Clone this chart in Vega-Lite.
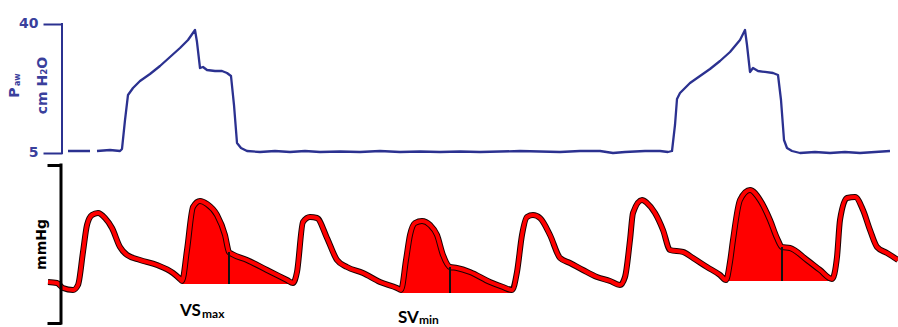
{
  "$schema": "https://vega.github.io/schema/vega-lite/v6.json",
  "width": 898,
  "height": 327,
  "autosize": {"type": "fit", "contains": "padding"},
  "padding": 0,
  "background": "white",
  "config": {"view": {"stroke": null}},
  "datasets": {
    "paw": [
      {"t": 0.68, "paw": 5.54}, {"t": 0.90, "paw": 5.54}, {"t": 0.935, "paw": null},
      {"t": 0.97, "paw": 5.54}, {"t": 1.10, "paw": 5.81}, {"t": 1.20, "paw": 5.54},
      {"t": 1.22, "paw": 6.09}, {"t": 1.25, "paw": 13.95}, {"t": 1.28, "paw": 20.74},
      {"t": 1.33, "paw": 22.63}, {"t": 1.40, "paw": 24.53}, {"t": 1.50, "paw": 26.43},
      {"t": 1.60, "paw": 28.60}, {"t": 1.70, "paw": 31.04}, {"t": 1.80, "paw": 33.49},
      {"t": 1.88, "paw": 35.66}, {"t": 1.95, "paw": 38.37}, {"t": 1.97, "paw": 35.11},
      {"t": 2.00, "paw": 28.06}, {"t": 2.03, "paw": 28.33}, {"t": 2.07, "paw": 27.52},
      {"t": 2.15, "paw": 27.25}, {"t": 2.22, "paw": 27.25}, {"t": 2.27, "paw": 26.70},
      {"t": 2.31, "paw": 25.89}, {"t": 2.34, "paw": 18.02}, {"t": 2.37, "paw": 7.71},
      {"t": 2.41, "paw": 6.36}, {"t": 2.47, "paw": 5.54}, {"t": 2.60, "paw": 5.27},
      {"t": 2.75, "paw": 5.54}, {"t": 2.90, "paw": 5.27}, {"t": 3.05, "paw": 5.54},
      {"t": 3.20, "paw": 5.27}, {"t": 3.40, "paw": 5.40}, {"t": 3.60, "paw": 5.27},
      {"t": 3.80, "paw": 5.54}, {"t": 4.00, "paw": 5.27}, {"t": 4.20, "paw": 5.40},
      {"t": 4.40, "paw": 5.27}, {"t": 4.60, "paw": 5.40}, {"t": 4.80, "paw": 5.27},
      {"t": 5.00, "paw": 5.40}, {"t": 5.20, "paw": 5.54}, {"t": 5.40, "paw": 5.40},
      {"t": 5.60, "paw": 5.27}, {"t": 5.80, "paw": 5.54}, {"t": 6.00, "paw": 5.54},
      {"t": 6.13, "paw": 5.00}, {"t": 6.25, "paw": 5.27}, {"t": 6.45, "paw": 5.54},
      {"t": 6.60, "paw": 5.54}, {"t": 6.68, "paw": 5.27}, {"t": 6.72, "paw": 5.54},
      {"t": 6.75, "paw": 12.60}, {"t": 6.77, "paw": 19.65}, {"t": 6.80, "paw": 21.28},
      {"t": 6.90, "paw": 23.99}, {"t": 7.00, "paw": 25.89}, {"t": 7.10, "paw": 27.79},
      {"t": 7.20, "paw": 29.96}, {"t": 7.30, "paw": 32.40}, {"t": 7.40, "paw": 35.66},
      {"t": 7.45, "paw": 38.37}, {"t": 7.47, "paw": 34.30}, {"t": 7.50, "paw": 26.98},
      {"t": 7.53, "paw": 28.06}, {"t": 7.58, "paw": 27.25}, {"t": 7.65, "paw": 26.98},
      {"t": 7.73, "paw": 26.70}, {"t": 7.78, "paw": 26.16}, {"t": 7.81, "paw": 19.38},
      {"t": 7.84, "paw": 8.53}, {"t": 7.87, "paw": 6.36}, {"t": 7.92, "paw": 5.54},
      {"t": 8.00, "paw": 5.00}, {"t": 8.15, "paw": 5.27}, {"t": 8.30, "paw": 5.00},
      {"t": 8.45, "paw": 5.27}, {"t": 8.60, "paw": 5.00}, {"t": 8.75, "paw": 5.27},
      {"t": 8.90, "paw": 5.54}
    ],
    "pawAxisLine": [{"t": 0.62, "paw": 5, "paw2": 40}],
    "pawTitleMain": [{"t": 0.145, "paw": 21.41, "text": "P"}],
    "pawTitleSub": [{"t": 0.175, "paw": 24.9, "text": "aw"}],
    "abp": [
      {"t": 0.48, "mmHg": 60.76}, {"t": 0.57, "mmHg": 60.25}, {"t": 0.63, "mmHg": 57.72},
      {"t": 0.73, "mmHg": 56.71}, {"t": 0.78, "mmHg": 59.24}, {"t": 0.83, "mmHg": 75.95},
      {"t": 0.87, "mmHg": 89.62}, {"t": 0.92, "mmHg": 94.68}, {"t": 0.98, "mmHg": 95.70},
      {"t": 1.05, "mmHg": 93.16}, {"t": 1.12, "mmHg": 88.10}, {"t": 1.20, "mmHg": 78.48},
      {"t": 1.27, "mmHg": 74.43}, {"t": 1.40, "mmHg": 71.90}, {"t": 1.57, "mmHg": 69.37},
      {"t": 1.73, "mmHg": 65.32}, {"t": 1.80, "mmHg": 62.28}, {"t": 1.82, "mmHg": 61.27},
      {"t": 1.87, "mmHg": 76.96}, {"t": 1.93, "mmHg": 98.73}, {"t": 2.00, "mmHg": 101.77},
      {"t": 2.07, "mmHg": 100.25}, {"t": 2.17, "mmHg": 94.68}, {"t": 2.25, "mmHg": 84.56},
      {"t": 2.29, "mmHg": 75.95}, {"t": 2.32, "mmHg": 74.94}, {"t": 2.47, "mmHg": 71.90},
      {"t": 2.67, "mmHg": 66.84}, {"t": 2.87, "mmHg": 61.77}, {"t": 2.93, "mmHg": 60.25},
      {"t": 2.97, "mmHg": 65.82}, {"t": 3.03, "mmHg": 91.14}, {"t": 3.10, "mmHg": 93.67},
      {"t": 3.17, "mmHg": 93.16}, {"t": 3.27, "mmHg": 83.04}, {"t": 3.37, "mmHg": 71.90},
      {"t": 3.47, "mmHg": 68.35}, {"t": 3.63, "mmHg": 65.32}, {"t": 3.80, "mmHg": 60.76},
      {"t": 3.97, "mmHg": 57.72}, {"t": 4.01, "mmHg": 56.71}, {"t": 4.06, "mmHg": 71.90},
      {"t": 4.10, "mmHg": 84.56}, {"t": 4.15, "mmHg": 90.63}, {"t": 4.22, "mmHg": 91.65},
      {"t": 4.30, "mmHg": 89.62}, {"t": 4.37, "mmHg": 84.56}, {"t": 4.43, "mmHg": 74.43},
      {"t": 4.50, "mmHg": 68.35}, {"t": 4.57, "mmHg": 67.85}, {"t": 4.70, "mmHg": 65.82},
      {"t": 4.90, "mmHg": 60.76}, {"t": 5.03, "mmHg": 58.23}, {"t": 5.12, "mmHg": 56.71},
      {"t": 5.17, "mmHg": 65.82}, {"t": 5.22, "mmHg": 84.56}, {"t": 5.27, "mmHg": 93.67},
      {"t": 5.33, "mmHg": 94.68}, {"t": 5.40, "mmHg": 93.16}, {"t": 5.50, "mmHg": 84.56},
      {"t": 5.60, "mmHg": 72.91}, {"t": 5.70, "mmHg": 70.38}, {"t": 5.83, "mmHg": 66.84},
      {"t": 5.97, "mmHg": 63.29}, {"t": 6.10, "mmHg": 61.27}, {"t": 6.20, "mmHg": 59.24},
      {"t": 6.25, "mmHg": 63.29}, {"t": 6.30, "mmHg": 82.03}, {"t": 6.33, "mmHg": 95.70},
      {"t": 6.42, "mmHg": 102.28}, {"t": 6.47, "mmHg": 100.76}, {"t": 6.55, "mmHg": 95.70},
      {"t": 6.63, "mmHg": 87.09}, {"t": 6.70, "mmHg": 76.96}, {"t": 6.83, "mmHg": 75.95},
      {"t": 6.93, "mmHg": 72.91}, {"t": 7.07, "mmHg": 68.35}, {"t": 7.20, "mmHg": 64.30},
      {"t": 7.26, "mmHg": 61.77}, {"t": 7.30, "mmHg": 70.89}, {"t": 7.33, "mmHg": 82.03},
      {"t": 7.40, "mmHg": 102.28}, {"t": 7.50, "mmHg": 107.34}, {"t": 7.60, "mmHg": 102.28},
      {"t": 7.70, "mmHg": 92.15}, {"t": 7.77, "mmHg": 83.04}, {"t": 7.82, "mmHg": 78.48},
      {"t": 7.90, "mmHg": 77.97}, {"t": 8.07, "mmHg": 71.90}, {"t": 8.20, "mmHg": 66.84},
      {"t": 8.32, "mmHg": 62.28}, {"t": 8.37, "mmHg": 73.42}, {"t": 8.40, "mmHg": 92.15},
      {"t": 8.47, "mmHg": 103.29}, {"t": 8.55, "mmHg": 103.80}, {"t": 8.63, "mmHg": 97.22},
      {"t": 8.70, "mmHg": 87.09}, {"t": 8.77, "mmHg": 78.48}, {"t": 8.87, "mmHg": 75.44},
      {"t": 8.98, "mmHg": 71.90}
    ],
    "fills": [
      {"beat": 1, "t": 1.82, "mmHg": 61.27, "base": 59.75},
      {"beat": 1, "t": 1.87, "mmHg": 76.96, "base": 59.75},
      {"beat": 1, "t": 1.93, "mmHg": 98.73, "base": 59.75},
      {"beat": 1, "t": 2.00, "mmHg": 101.77, "base": 59.75},
      {"beat": 1, "t": 2.07, "mmHg": 100.25, "base": 59.75},
      {"beat": 1, "t": 2.17, "mmHg": 94.68, "base": 59.75},
      {"beat": 1, "t": 2.25, "mmHg": 84.56, "base": 59.75},
      {"beat": 1, "t": 2.29, "mmHg": 75.95, "base": 59.75},
      {"beat": 1, "t": 2.32, "mmHg": 74.94, "base": 59.75},
      {"beat": 1, "t": 2.47, "mmHg": 71.90, "base": 59.75},
      {"beat": 1, "t": 2.67, "mmHg": 66.84, "base": 59.75},
      {"beat": 1, "t": 2.87, "mmHg": 61.77, "base": 59.75},
      {"beat": 1, "t": 2.93, "mmHg": 60.25, "base": 59.75},
      {"beat": 2, "t": 4.01, "mmHg": 56.71, "base": 55.19},
      {"beat": 2, "t": 4.06, "mmHg": 71.90, "base": 55.19},
      {"beat": 2, "t": 4.10, "mmHg": 84.56, "base": 55.19},
      {"beat": 2, "t": 4.15, "mmHg": 90.63, "base": 55.19},
      {"beat": 2, "t": 4.22, "mmHg": 91.65, "base": 55.19},
      {"beat": 2, "t": 4.30, "mmHg": 89.62, "base": 55.19},
      {"beat": 2, "t": 4.37, "mmHg": 84.56, "base": 55.19},
      {"beat": 2, "t": 4.43, "mmHg": 74.43, "base": 55.19},
      {"beat": 2, "t": 4.50, "mmHg": 68.35, "base": 55.19},
      {"beat": 2, "t": 4.57, "mmHg": 67.85, "base": 55.19},
      {"beat": 2, "t": 4.70, "mmHg": 65.82, "base": 55.19},
      {"beat": 2, "t": 4.90, "mmHg": 60.76, "base": 55.19},
      {"beat": 2, "t": 5.03, "mmHg": 58.23, "base": 55.19},
      {"beat": 2, "t": 5.12, "mmHg": 56.71, "base": 55.19},
      {"beat": 3, "t": 7.26, "mmHg": 61.77, "base": 61.27},
      {"beat": 3, "t": 7.30, "mmHg": 70.89, "base": 61.27},
      {"beat": 3, "t": 7.33, "mmHg": 82.03, "base": 61.27},
      {"beat": 3, "t": 7.40, "mmHg": 102.28, "base": 61.27},
      {"beat": 3, "t": 7.50, "mmHg": 107.34, "base": 61.27},
      {"beat": 3, "t": 7.60, "mmHg": 102.28, "base": 61.27},
      {"beat": 3, "t": 7.70, "mmHg": 92.15, "base": 61.27},
      {"beat": 3, "t": 7.77, "mmHg": 83.04, "base": 61.27},
      {"beat": 3, "t": 7.82, "mmHg": 78.48, "base": 61.27},
      {"beat": 3, "t": 7.90, "mmHg": 77.97, "base": 61.27},
      {"beat": 3, "t": 8.07, "mmHg": 71.90, "base": 61.27},
      {"beat": 3, "t": 8.20, "mmHg": 66.84, "base": 61.27},
      {"beat": 3, "t": 8.32, "mmHg": 62.28, "base": 61.27}
    ],
    "notches": [
      {"t": 2.29, "mmHg": 75.95, "base": 59.75},
      {"t": 4.50, "mmHg": 68.35, "base": 55.19},
      {"t": 7.82, "mmHg": 78.48, "base": 61.27}
    ],
    "abpAxisLine": [{"t": 0.61, "mmHg": 40, "mmHg2": 120}],
    "labelMain": [
      {"t": 1.80, "mmHg": 43.54, "text": "VS"},
      {"t": 3.98, "mmHg": 40.0, "text": "SV"}
    ],
    "labelSub": [
      {"t": 2.02, "mmHg": 42.53, "text": "max"},
      {"t": 4.19, "mmHg": 39.3, "text": "min"}
    ]
  },
  "layer": [
    {
      "layer": [
        {
          "data": {"name": "paw"},
          "mark": {"type": "line", "color": "#2b3190", "strokeWidth": 2.3, "strokeJoin": "round"},
          "encoding": {
            "x": {"field": "t", "type": "quantitative", "scale": {"domain": [0, 8.98], "nice": false, "zero": false}, "axis": null},
            "y": {
              "field": "paw", "type": "quantitative",
              "scale": {"domain": [-42.21, 46.51], "nice": false, "zero": false},
              "axis": {
                "orient": "left", "offset": -62, "values": [5, 40], "domain": false, "grid": false,
                "tickSize": 19, "tickWidth": 2, "tickColor": "#2b3190",
                "labelColor": "#3a409c", "labelFont": "DejaVu Sans", "labelFontSize": 14, "labelFontWeight": "bold", "labelPadding": 5,
                "title": "cm H₂O", "titleColor": "#3a409c", "titleFont": "DejaVu Sans", "titleFontSize": 14, "titleFontWeight": "bold",
                "titleAngle": -90, "titleX": -20, "titleY": 85, "titleAlign": "center", "titleBaseline": "middle"
              }
            }
          }
        },
        {
          "data": {"name": "pawAxisLine"},
          "mark": {"type": "rule", "color": "#2b3190", "strokeWidth": 2, "strokeCap": "square"},
          "encoding": {
            "x": {"field": "t", "type": "quantitative"},
            "y": {"field": "paw", "type": "quantitative"},
            "y2": {"field": "paw2"}
          }
        },
        {
          "data": {"name": "pawTitleMain"},
          "mark": {"type": "text", "angle": 270, "align": "center", "baseline": "middle", "font": "DejaVu Sans", "fontWeight": "bold", "fontSize": 14, "color": "#3a409c"},
          "encoding": {
            "x": {"field": "t", "type": "quantitative"},
            "y": {"field": "paw", "type": "quantitative"},
            "text": {"field": "text"}
          }
        },
        {
          "data": {"name": "pawTitleSub"},
          "mark": {"type": "text", "angle": 270, "align": "center", "baseline": "middle", "font": "DejaVu Sans", "fontWeight": "bold", "fontSize": 8, "color": "#3a409c"},
          "encoding": {
            "x": {"field": "t", "type": "quantitative"},
            "y": {"field": "paw", "type": "quantitative"},
            "text": {"field": "text"}
          }
        }
      ]
    },
    {
      "layer": [
        {
          "data": {"name": "fills"},
          "mark": {"type": "area", "color": "#ff0000", "interpolate": "monotone", "opacity": 1},
          "encoding": {
            "x": {"field": "t", "type": "quantitative", "scale": {"domain": [0, 8.98], "nice": false, "zero": false}, "axis": null},
            "y": {
              "field": "mmHg", "type": "quantitative",
              "scale": {"domain": [37.97, 203.54], "nice": false, "zero": false},
              "axis": {
                "orient": "left", "offset": -61, "values": [40, 120], "domain": false, "grid": false, "labels": false,
                "tickSize": 14, "tickWidth": 3, "tickColor": "black",
                "title": "mmHg", "titleColor": "black", "titleFont": "DejaVu Sans", "titleFontSize": 14, "titleFontWeight": "bold",
                "titleAngle": -90, "titleX": -20, "titleY": 244, "titleAlign": "center", "titleBaseline": "middle"
              }
            },
            "y2": {"field": "base"},
            "detail": {"field": "beat", "type": "nominal"}
          }
        },
        {
          "data": {"name": "abp"},
          "mark": {"type": "line", "color": "#1a0000", "strokeWidth": 6, "interpolate": "monotone", "strokeJoin": "round", "clip": true},
          "encoding": {
            "x": {"field": "t", "type": "quantitative"},
            "y": {"field": "mmHg", "type": "quantitative"}
          }
        },
        {
          "data": {"name": "abp"},
          "mark": {"type": "line", "color": "#ff0000", "strokeWidth": 4, "interpolate": "monotone", "strokeJoin": "round", "clip": true},
          "encoding": {
            "x": {"field": "t", "type": "quantitative"},
            "y": {"field": "mmHg", "type": "quantitative"}
          }
        },
        {
          "data": {"name": "notches"},
          "mark": {"type": "rule", "color": "#111111", "strokeWidth": 2},
          "encoding": {
            "x": {"field": "t", "type": "quantitative"},
            "y": {"field": "mmHg", "type": "quantitative"},
            "y2": {"field": "base"}
          }
        },
        {
          "data": {"name": "abpAxisLine"},
          "mark": {"type": "rule", "color": "black", "strokeWidth": 3, "strokeCap": "square"},
          "encoding": {
            "x": {"field": "t", "type": "quantitative"},
            "y": {"field": "mmHg", "type": "quantitative"},
            "y2": {"field": "mmHg2"}
          }
        },
        {
          "data": {"name": "labelMain"},
          "mark": {"type": "text", "align": "left", "baseline": "alphabetic", "font": "Lato", "fontWeight": "bold", "fontSize": 17, "color": "black", "clip": true},
          "encoding": {
            "x": {"field": "t", "type": "quantitative"},
            "y": {"field": "mmHg", "type": "quantitative"},
            "text": {"field": "text"}
          }
        },
        {
          "data": {"name": "labelSub"},
          "mark": {"type": "text", "align": "left", "baseline": "alphabetic", "font": "Lato", "fontWeight": "bold", "fontSize": 12, "color": "black", "clip": true},
          "encoding": {
            "x": {"field": "t", "type": "quantitative"},
            "y": {"field": "mmHg", "type": "quantitative"},
            "text": {"field": "text"}
          }
        }
      ]
    }
  ],
  "resolve": {"scale": {"y": "independent"}}
}
